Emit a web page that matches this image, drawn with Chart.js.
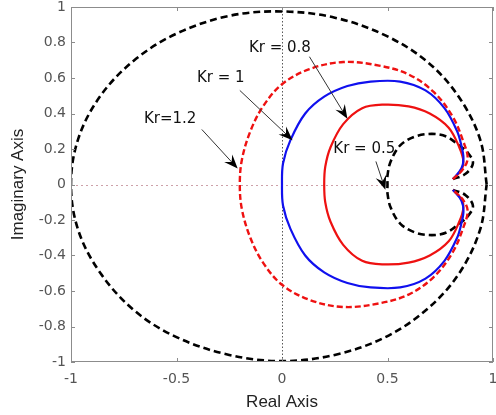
<!DOCTYPE html>
<html>
<head>
<meta charset="utf-8">
<script src="https://cdn.jsdelivr.net/npm/chart.js@4/dist/chart.umd.min.js"></script>
<style>
  html, body { margin: 0; padding: 0; background: #ffffff; }
  #wrap { width: 496px; height: 415px; }
</style>
</head>
<body>
<div id="wrap"><canvas id="c" width="496" height="415"></canvas></div>
<script>
// ---------- tick labels ----------
const xTicks = [-1, -0.5, 0, 0.5, 1];
const xTickLabels = ['-1', '-0.5', '0', '0.5', '1'];
const yTicks = [-1, -0.8, -0.6, -0.4, -0.2, 0, 0.2, 0.4, 0.6, 0.8, 1];
const yTickLabels = ['-1', '-0.8', '-0.6', '-0.4', '-0.2', '0', '0.2', '0.4', '0.6', '0.8', '1'];

// ---------- series (real, imaginary) ----------
const outerCurve = [
  [0.97, 0], [0.94, 0.25], [0.84, 0.49], [0.69, 0.69], [0.49, 0.84], [0.25, 0.94], [0, 0.975],
  [-0.25, 0.95], [-0.5, 0.85], [-0.7, 0.7], [-0.86, 0.5], [-0.965, 0.26], [-1.0, 0],
  [-0.965, -0.26], [-0.86, -0.5], [-0.7, -0.71], [-0.5, -0.86], [-0.25, -0.96], [0, -0.995],
  [0.25, -0.96], [0.49, -0.86], [0.69, -0.7], [0.84, -0.5], [0.94, -0.25], [0.97, 0]
];
const kr12 = [
  [0.81, 0.03], [0.86, 0.09], [0.88, 0.15], [0.86, 0.24], [0.81, 0.38], [0.72, 0.52], [0.60, 0.62],
  [0.46, 0.67], [0.29, 0.69], [0.13, 0.65], [0.00, 0.565], [-0.09, 0.44], [-0.15, 0.30], [-0.19, 0.14],
  [-0.20, 0], [-0.19, -0.14], [-0.15, -0.30], [-0.09, -0.44], [0.00, -0.565], [0.13, -0.65],
  [0.29, -0.69], [0.46, -0.67], [0.60, -0.62], [0.72, -0.52], [0.81, -0.38], [0.86, -0.24],
  [0.88, -0.15], [0.86, -0.09], [0.81, -0.03]
];
const kr10 = [
  [0.81, 0.03], [0.85, 0.09], [0.86, 0.15], [0.85, 0.22], [0.83, 0.30], [0.77, 0.43], [0.68, 0.53],
  [0.56, 0.58], [0.42, 0.58], [0.31, 0.555], [0.20, 0.495], [0.11, 0.40], [0.04, 0.25], [0.005, 0.12],
  [0, 0], [0.005, -0.12], [0.04, -0.25], [0.11, -0.40], [0.20, -0.495], [0.31, -0.555], [0.42, -0.58],
  [0.56, -0.58], [0.68, -0.53], [0.77, -0.43], [0.83, -0.30], [0.85, -0.22], [0.86, -0.15],
  [0.85, -0.09], [0.81, -0.03]
];
const kr08 = [
  [0.81, 0.03], [0.85, 0.08], [0.86, 0.13], [0.84, 0.21], [0.79, 0.32], [0.70, 0.40], [0.60, 0.44],
  [0.48, 0.45], [0.38, 0.43], [0.29, 0.34], [0.23, 0.21], [0.205, 0.10], [0.20, 0],
  [0.205, -0.10], [0.23, -0.21], [0.29, -0.34], [0.38, -0.43], [0.48, -0.45], [0.60, -0.44],
  [0.70, -0.40], [0.79, -0.32], [0.84, -0.21], [0.86, -0.13], [0.85, -0.08], [0.81, -0.03]
];
const kr05 = [
  [0.81, 0.03], [0.87, 0.06], [0.905, 0.12], [0.88, 0.18], [0.84, 0.22], [0.78, 0.27], [0.71, 0.285],
  [0.63, 0.27], [0.56, 0.22], [0.515, 0.13], [0.50, 0.05], [0.50, 0],
  [0.50, -0.05], [0.515, -0.13], [0.56, -0.22], [0.63, -0.27], [0.71, -0.285], [0.78, -0.27],
  [0.84, -0.22], [0.88, -0.18], [0.905, -0.12], [0.87, -0.06], [0.81, -0.03]
];

// ---------- annotation texts ----------
const annoTexts = ['Kr = 0.8', 'Kr = 1', 'Kr=1.2', 'Kr = 0.5'];

// annotation geometry (data coordinates): label centre, arrow start, arrow tip
const annoGeom = [
  { lx: -0.01, ly: 0.77, sx: 0.13, sy: 0.72, tx: 0.31, ty: 0.37 },
  { lx: -0.29, ly: 0.60, sx: -0.20, sy: 0.53, tx: 0.05, ty: 0.25 },
  { lx: -0.53, ly: 0.37, sx: -0.38, sy: 0.31, tx: -0.21, ty: 0.09 },
  { lx: 0.39, ly: 0.20, sx: 0.445, sy: 0.13, tx: 0.49, ty: -0.03 }
];

const toPts = arr => arr.map(p => ({ x: p[0], y: p[1] }));

const TICK_FONT = { family: '"DejaVu Sans", "Liberation Sans", Arial, sans-serif', size: 14 };
const TITLE_FONT = { family: '"Liberation Sans", Arial, sans-serif', size: 17 };
const ANNO_FONT = '15px "DejaVu Sans", "Liberation Sans", Arial, sans-serif';

const framePlugin = {
  id: 'frame',
  beforeDatasetsDraw(chart) {
    const { ctx, chartArea: a, scales: { x, y } } = chart;
    ctx.save();
    ctx.lineWidth = 1;
    const y0 = Math.round(y.getPixelForValue(0)) + 0.5;
    ctx.strokeStyle = 'rgba(200,150,160,0.9)';
    ctx.setLineDash([2, 3]);
    ctx.beginPath(); ctx.moveTo(a.left, y0); ctx.lineTo(a.right, y0); ctx.stroke();
    const x0 = Math.round(x.getPixelForValue(0)) + 0.5;
    ctx.strokeStyle = 'rgba(70,70,70,0.9)';
    ctx.setLineDash([1.5, 2]);
    ctx.beginPath(); ctx.moveTo(x0, a.top); ctx.lineTo(x0, a.bottom); ctx.stroke();
    ctx.restore();
  },
  afterDatasetsDraw(chart) {
    const { ctx, chartArea: a, scales: { x, y } } = chart;
    ctx.save();
    ctx.strokeStyle = '#8c8c8c';
    ctx.lineWidth = 1;
    ctx.setLineDash([]);
    ctx.strokeRect(a.left + 0.5, a.top + 0.5, a.right - a.left - 1, a.bottom - a.top - 1);
    const tl = 4;
    ctx.beginPath();
    xTicks.forEach(v => {
      const px = Math.round(x.getPixelForValue(v)) + 0.5;
      ctx.moveTo(px, a.bottom); ctx.lineTo(px, a.bottom - tl);
      ctx.moveTo(px, a.top); ctx.lineTo(px, a.top + tl);
    });
    yTicks.forEach(v => {
      const py = Math.round(y.getPixelForValue(v)) + 0.5;
      ctx.moveTo(a.left, py); ctx.lineTo(a.left + tl, py);
      ctx.moveTo(a.right, py); ctx.lineTo(a.right - tl, py);
    });
    ctx.stroke();

    ctx.font = ANNO_FONT;
    ctx.textAlign = 'center';
    ctx.textBaseline = 'middle';
    annoGeom.forEach((g, i) => {
      ctx.fillStyle = '#111';
      ctx.fillText(annoTexts[i], x.getPixelForValue(g.lx), y.getPixelForValue(g.ly));
      const sx = x.getPixelForValue(g.sx), sy = y.getPixelForValue(g.sy);
      const tx = x.getPixelForValue(g.tx), ty = y.getPixelForValue(g.ty);
      const ang = Math.atan2(ty - sy, tx - sx);
      const L = 14, W = 5.5, N = 9;
      const bx = tx - Math.cos(ang) * N, by = ty - Math.sin(ang) * N;
      ctx.strokeStyle = '#333';
      ctx.lineWidth = 1;
      ctx.beginPath(); ctx.moveTo(sx, sy); ctx.lineTo(bx, by); ctx.stroke();
      const cx = tx - Math.cos(ang) * L, cy = ty - Math.sin(ang) * L;
      const px = -Math.sin(ang), py = Math.cos(ang);
      ctx.fillStyle = '#000';
      ctx.beginPath();
      ctx.moveTo(tx, ty);
      ctx.lineTo(cx + px * W, cy + py * W);
      ctx.lineTo(bx, by);
      ctx.lineTo(cx - px * W, cy - py * W);
      ctx.closePath();
      ctx.fill();
    });
    ctx.restore();
  }
};

const lineDs = (data, color, width, dash) => ({
  data: toPts(data),
  showLine: true,
  borderColor: color,
  backgroundColor: color,
  borderWidth: width,
  borderDash: dash,
  pointRadius: 0,
  pointHoverRadius: 0,
  tension: 0.35,
  fill: false
});

new Chart(document.getElementById('c'), {
  type: 'scatter',
  data: {
    datasets: [
      lineDs(outerCurve, '#000000', 2.6, [7, 4]),
      lineDs(kr12, '#ee1111', 2.4, [6, 3]),
      lineDs(kr10, '#1010ee', 2.2, []),
      lineDs(kr08, '#ee1111', 2.2, []),
      lineDs(kr05, '#000000', 2.6, [7, 4])
    ]
  },
  options: {
    responsive: false,
    animation: false,
    layout: { padding: { top: 7, right: 3, left: 0, bottom: 0 } },
    plugins: { legend: { display: false }, tooltip: { enabled: false } },
    scales: {
      x: {
        type: 'linear', min: -1, max: 1,
        afterBuildTicks: s => { s.ticks = xTicks.map(v => ({ value: v })); },
        afterFit: s => { s.height = 53; s.paddingLeft = 0; s.paddingRight = 0; },
        grid: { display: false, drawTicks: false },
        border: { display: false },
        ticks: {
          padding: 9, color: '#555', font: TICK_FONT, maxRotation: 0,
          callback: (v) => xTickLabels[xTicks.indexOf(v)]
        },
        title: { display: true, text: 'Real Axis', color: '#222', font: TITLE_FONT, padding: { top: 0, bottom: 2 } }
      },
      y: {
        type: 'linear', min: -1, max: 1,
        afterBuildTicks: s => { s.ticks = yTicks.map(v => ({ value: v })); },
        afterFit: s => { s.width = 71; s.paddingTop = 0; s.paddingBottom = 0; },
        grid: { display: false, drawTicks: false },
        border: { display: false },
        ticks: {
          padding: 5, color: '#555', font: TICK_FONT,
          callback: (v) => yTickLabels[yTicks.indexOf(v)]
        },
        title: { display: true, text: 'Imaginary Axis', color: '#222', font: TITLE_FONT, padding: { top: 8, bottom: 0 } }
      }
    }
  },
  plugins: [framePlugin]
});
</script>
</body>
</html>
